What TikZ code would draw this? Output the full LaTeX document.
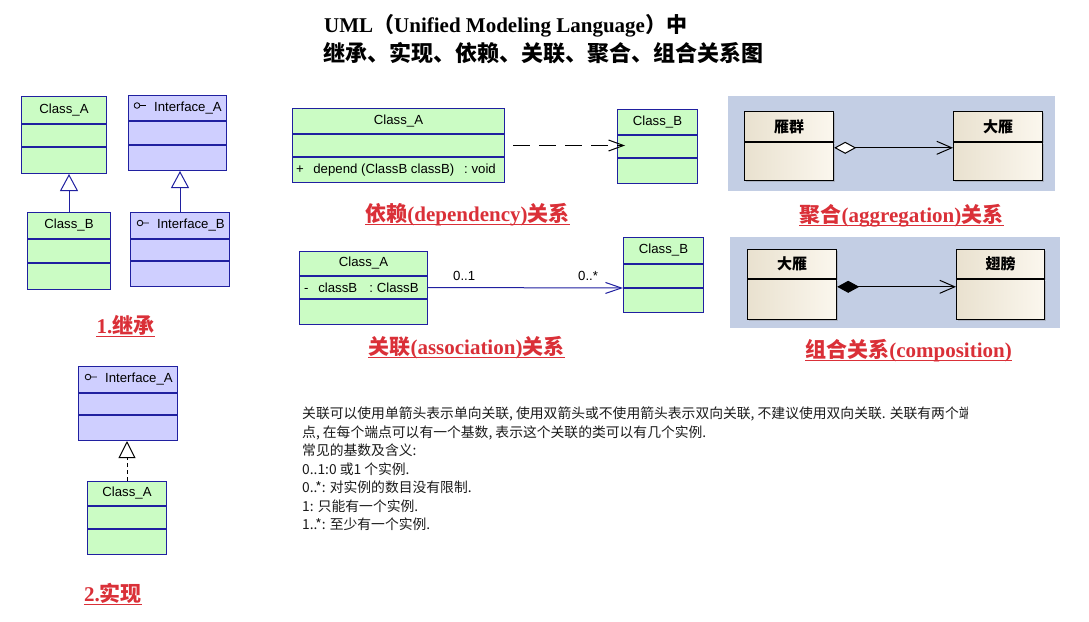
\documentclass[tikz,border=0pt]{standalone}
\usepackage{fontspec}
\setmainfont{Liberation Serif}
\newfontfamily\umlfont{Liberation Sans}
\newfontfamily\cjk{Noto Sans CJK SC}
\usetikzlibrary{positioning,arrows.meta,calc,shadows}
\definecolor{umlBlue}{HTML}{2020A0}
\definecolor{classGreen}{HTML}{CBFCC4}
\definecolor{ifaceBlue}{HTML}{CFCFFF}
\definecolor{panelBlue}{HTML}{C3CEE4}
\definecolor{gooseDark}{HTML}{E9E1CF}
\definecolor{gooseLight}{HTML}{FBF7EE}
\definecolor{labelRed}{HTML}{DA3038}
\definecolor{noteGrey}{HTML}{1A1A1A}

\begin{document}
\begin{tikzpicture}[x=1pt,y=-1pt,
  part/.style={draw=umlBlue,line width=1pt,inner sep=0pt,font=\umlfont\fontsize{13.2}{15}\selectfont},
  cls/.style={part,fill=classGreen},
  iface/.style={part,fill=ifaceBlue},
  member/.style={inner sep=0pt,font=\umlfont\fontsize{13.2}{15}\selectfont},
  goose/.style={draw=black,line width=1.2pt,inner sep=0pt,left color=gooseDark,right color=gooseLight,
    drop shadow={shadow xshift=1.5pt,shadow yshift=-1.5pt,opacity=.35},
    font=\cjk\bfseries\fontsize{15}{18}\selectfont},
  relLabel/.style={inner sep=0pt,text=labelRed,font=\bfseries\fontsize{21}{24}\selectfont},
  underline/.style={labelRed,line width=1.5pt},
  generalize/.style={umlBlue,line width=1pt,-{Triangle[open,fill=white,length=17pt,width=18pt]}},
  realize/.style={black,line width=1pt,dash pattern=on 4pt off 3pt,-{Triangle[open,fill=white,length=17pt,width=17pt]}},
  depends/.style={black,line width=1pt,dash pattern=on 17pt off 9pt,-{Straight Barb[length=15pt,width=11pt]}},
  associate/.style={umlBlue,line width=1pt,-{Straight Barb[length=16pt,width=11pt]}},
  aggregate/.style={black,line width=1pt,{Diamond[open,fill=white,length=22pt,width=12pt]}-{Straight Barb[length=15pt,width=13pt]}},
  compose/.style={black,line width=1pt,{Diamond[fill=black,length=22pt,width=12pt]}-{Straight Barb[length=15pt,width=13pt]}}]

\fill[white] (0,0) rectangle (1089,621);
\useasboundingbox (0,0) rectangle (1089,621);

% title
\node[anchor=base west,inner sep=0pt,font=\bfseries\fontsize{21}{24}\selectfont] (title) at (324,32)
  {UML{\cjk （}Unified Modeling Language{\cjk ）中}};
\node[anchor=base west,inner sep=0pt,font=\cjk\bfseries\fontsize{22}{24}\selectfont] (subtitle) at (323,61)
  {继承、实现、依赖、关联、聚合、组合关系图};

% 1. inheritance
\node[cls,minimum width=85pt,minimum height=27pt,anchor=north west] (inhA) at (21,96) {Class\_A};
\node[cls,minimum width=85pt,minimum height=22pt,below=0pt of inhA] (inhAm) {};
\node[cls,minimum width=85pt,minimum height=26pt,below=0pt of inhAm] (inhAb) {};
\node[cls,minimum width=83pt,minimum height=26pt,anchor=north west] (inhB) at (27,212) {Class\_B};
\node[cls,minimum width=83pt,minimum height=23pt,below=0pt of inhB] (inhBm) {};
\node[cls,minimum width=83pt,minimum height=26pt,below=0pt of inhBm] (inhBb) {};

\node[iface,minimum width=98pt,minimum height=25pt,anchor=north west] (ifA) at (128,95) {};
\node[iface,minimum width=98pt,minimum height=23pt,below=0pt of ifA] (ifAm) {};
\node[iface,minimum width=98pt,minimum height=25pt,below=0pt of ifAm] (ifAb) {};
\node[member,anchor=west] (ifAname) at ([xshift=26pt]ifA.west) {Interface\_A};
\node[iface,minimum width=99pt,minimum height=26pt,anchor=north west] (ifB) at (130,212) {};
\node[iface,minimum width=99pt,minimum height=21pt,below=0pt of ifB] (ifBm) {};
\node[iface,minimum width=99pt,minimum height=25pt,below=0pt of ifBm] (ifBb) {};
\node[member,anchor=west] (ifBname) at ([xshift=27pt]ifB.west) {Interface\_B};

\draw[generalize] (inhB.north) -- (inhB.north |- inhAb.south);
\draw[generalize] (ifB.north) -- (ifB.north |- ifAb.south);

% 2. realization
\node[iface,minimum width=99pt,minimum height=26pt,anchor=north west] (realI) at (78,366) {};
\node[iface,minimum width=99pt,minimum height=21pt,below=0pt of realI] (realIm) {};
\node[iface,minimum width=99pt,minimum height=25pt,below=0pt of realIm] (realIb) {};
\node[member,anchor=west] (realIname) at ([xshift=27pt]realI.west) {Interface\_A};
\node[cls,minimum width=79pt,minimum height=24pt,anchor=north west] (realC) at (87,481) {Class\_A};
\node[cls,minimum width=79pt,minimum height=22pt,below=0pt of realC] (realCm) {};
\node[cls,minimum width=79pt,minimum height=25pt,below=0pt of realCm] (realCb) {};

\draw[realize] (realC.north) -- (realC.north |- realIb.south);

\foreach \n in {ifAname,ifBname,realIname}
  \draw[black,line width=0.8pt] ([xshift=-17pt,yshift=2.5pt]\n.west) circle (2.8pt) ++(2.8pt,0) -- ++(6pt,0);

% dependency
\node[cls,minimum width=212pt,minimum height=25pt,anchor=north west] (depA) at (292,108) {Class\_A};
\node[cls,minimum width=212pt,minimum height=22pt,below=0pt of depA] (depAm) {};
\node[cls,minimum width=212pt,minimum height=25pt,below=0pt of depAm] (depAb) {};
\node[member,anchor=west] (depOp) at ([xshift=4pt]depAb.west)
  {+\hspace{9.5pt}depend (ClassB classB)\hspace{10pt}: void};
\node[cls,minimum width=80pt,minimum height=25pt,anchor=north west] (depB) at (617,109) {Class\_B};
\node[cls,minimum width=80pt,minimum height=22pt,below=0pt of depB] (depBm) {};
\node[cls,minimum width=80pt,minimum height=25pt,below=0pt of depBm] (depBb) {};

\draw[depends] ([xshift=8pt]depAm.east) -- ([xshift=8pt]depAm.east -| depBm.west);

% association
\node[cls,minimum width=128pt,minimum height=24pt,anchor=north west] (ascA) at (299,251) {Class\_A};
\node[cls,minimum width=128pt,minimum height=22pt,below=0pt of ascA] (ascAm) {};
\node[cls,minimum width=128pt,minimum height=25pt,below=0pt of ascAm] (ascAb) {};
\node[member,anchor=west] (ascAttr) at ([xshift=5pt]ascAm.west)
  {-\hspace{9.7pt}classB\hspace{12.3pt}: ClassB};
\node[cls,minimum width=80pt,minimum height=26pt,anchor=north west] (ascB) at (623,237) {Class\_B};
\node[cls,minimum width=80pt,minimum height=23pt,below=0pt of ascB] (ascBm) {};
\node[cls,minimum width=80pt,minimum height=24pt,below=0pt of ascBm] (ascBb) {};

\draw[associate] (ascAm.east) -- (ascBm.south west);
\node[member,anchor=base west] (multA) at (453,280) {0..1};
\node[member,anchor=base west] (multB) at (578,280) {0..*};

% aggregation
\fill[panelBlue] (728,96) rectangle (1055,191);
\node[goose,minimum width=89pt,minimum height=30pt,anchor=north west] (flock) at (744,111) {雁群};
\node[goose,minimum width=89pt,minimum height=38pt,below=0pt of flock] (flockB) {};
\node[goose,minimum width=89pt,minimum height=30pt,anchor=north west] (goose) at (953,111) {大雁};
\node[goose,minimum width=89pt,minimum height=38pt,below=0pt of goose] (gooseB) {};

\draw[aggregate] ([yshift=14pt]flockB.east) -- ([yshift=14pt]gooseB.west);

% composition
\fill[panelBlue] (730,237) rectangle (1060,328);
\node[goose,minimum width=89pt,minimum height=29pt,anchor=north west] (gooseC) at (747,249) {大雁};
\node[goose,minimum width=89pt,minimum height=40pt,below=0pt of gooseC] (gooseCB) {};
\node[goose,minimum width=88pt,minimum height=29pt,anchor=north west] (wing) at (956,249) {翅膀};
\node[goose,minimum width=88pt,minimum height=40pt,below=0pt of wing] (wingB) {};

\draw[compose] ([yshift=13pt]gooseCB.east) -- ([yshift=13pt]wingB.west);

% red captions
\node[relLabel,anchor=base] (lblInh) at (125.5,333) {1.{\cjk 继承}};
\node[relLabel,anchor=base] (lblReal) at (113,601) {2.{\cjk 实现}};
\node[relLabel,anchor=base] (lblDep) at (467.5,221) {{\cjk 依赖}(dependency){\cjk 关系}};
\node[relLabel,anchor=base] (lblAsc) at (466.5,354) {{\cjk 关联}(association){\cjk 关系}};
\node[relLabel,anchor=base] (lblAgg) at (901.5,222) {{\cjk 聚合}(aggregation){\cjk 关系}};
\node[relLabel,anchor=base] (lblCmp) at (908.5,357) {{\cjk 组合关系}(composition)};
\foreach \n in {lblInh,lblReal,lblDep,lblAsc,lblAgg,lblCmp}
  \draw[underline] ([yshift=-3.5pt]\n.base west) -- ([yshift=-3.5pt]\n.base east);

% note on multiplicity
\begin{scope}
\clip (290,395) rectangle (967,545);
\node[anchor=north west,inner sep=0pt,align=left,text=noteGrey,font=\cjk\fontsize{13.8}{18.5}\selectfont] (note) at (302,407)
  {关联可以使用单箭头表示单向关联, 使用双箭头或不使用箭头表示双向关联, 不建议使用双向关联. 关联有两个端\\
   点, 在每个端点可以有一个基数, 表示这个关联的类可以有几个实例.\\
   常见的基数及含义:\\
   0..1:0 或1 个实例.\\
   0..*: 对实例的数目没有限制.\\
   1: 只能有一个实例.\\
   1..*: 至少有一个实例.};
\end{scope}
\end{tikzpicture}
\end{document}
